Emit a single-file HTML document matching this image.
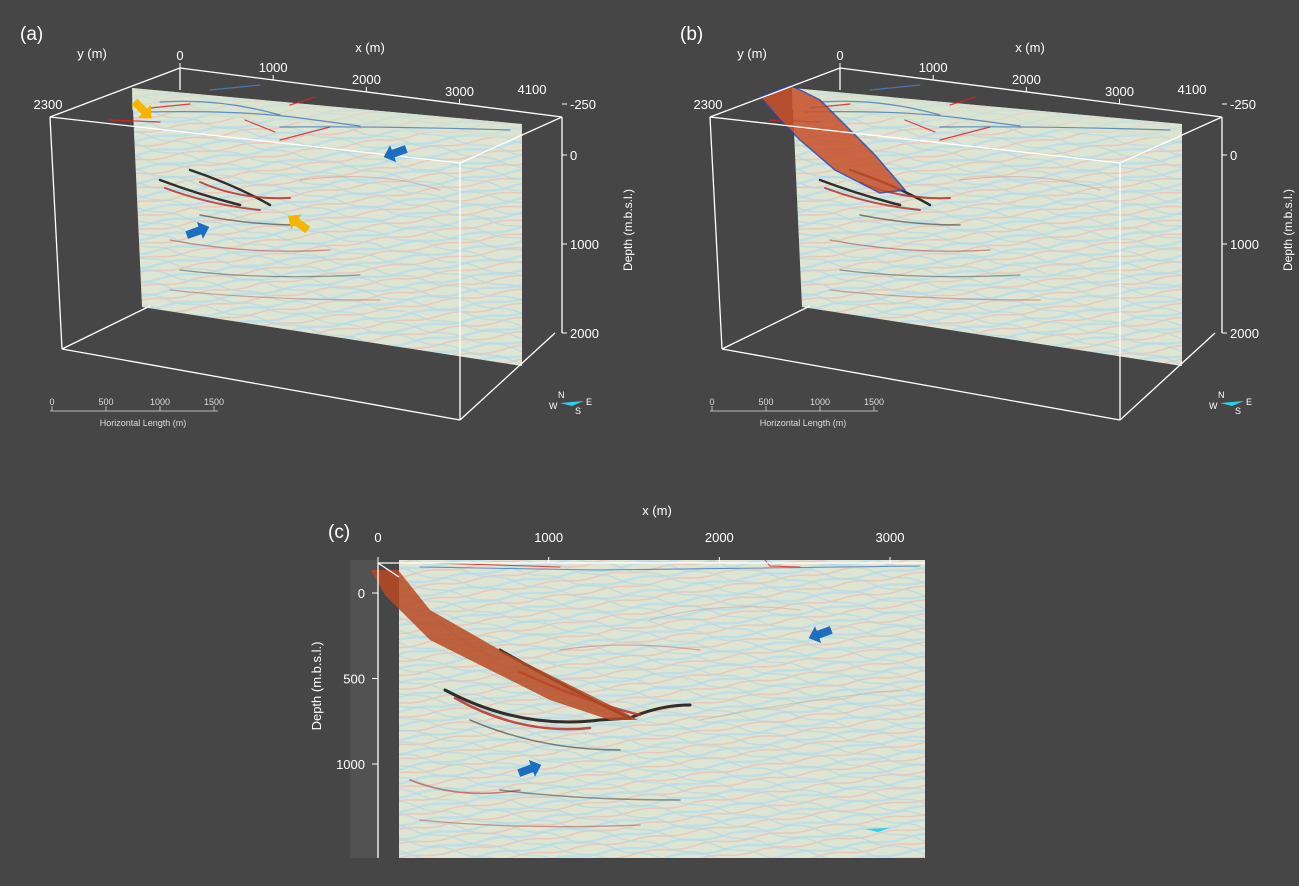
<!DOCTYPE html>
<html><head><meta charset="utf-8"><style>
html,body{margin:0;padding:0;background:#464646;}
svg{display:block;font-family:"Liberation Sans",sans-serif;}
</style></head><body>
<svg id="fig" width="1299" height="886" viewBox="0 0 1299 886">
<defs>
<pattern id="seis" width="60" height="14" patternUnits="userSpaceOnUse" patternTransform="rotate(-8)">
<rect width="60" height="14" fill="#dfe5d3"/>
<path d="M0 4 Q15 1 30 4 T60 4" stroke="#bfdfe6" stroke-width="2.5" fill="none"/>
<path d="M0 10 Q15 13 30 10 T60 10" stroke="#e6c9bd" stroke-width="1.6" fill="none"/>
</pattern>
<pattern id="seis2" width="50" height="12" patternUnits="userSpaceOnUse" patternTransform="rotate(12)">
<path d="M0 6 Q12 3 25 6 T50 6" stroke="#b7d8e2" stroke-width="1.5" fill="none" opacity="0.7"/>
</pattern>
</defs>
<g id="pa"></g>
<g id="pb" transform="translate(660,0)"></g>
<g id="pc"></g>
</svg>
<script>
const xTicks=[0,1000,2000,3000];
const depthTicks3d=[-250,0,1000,2000];
const scaleTicks=[0,500,1000,1500];
const cXTicks=[0,1000,2000,3000];
const cDepthTicks=[0,500,1000];
const NS="http://www.w3.org/2000/svg";
function mk(p,tag,attrs,txt){const e=document.createElementNS(NS,tag);for(const k in attrs)e.setAttribute(k,attrs[k]);if(txt!==undefined)e.textContent=txt;p.appendChild(e);return e;}
function streaks(g,list){list.forEach(s=>{const e=mk(g,'path',{d:s[0],stroke:s[1],'stroke-width':s[2],fill:'none','stroke-linecap':'round',opacity:s[3]||0.85});

});}
function panel3d(g,label,fault){
 const L=mk(g,'text',{x:20,y:40,fill:'#fff','font-size':19},label);
 
 const sp=mk(g,'polygon',{points:'132,88 522,124 522,366 142,307',fill:'url(#seis)'});
 
 mk(g,'polygon',{points:'132,88 522,124 522,366 142,307',fill:'url(#seis2)'});
 mk(g,'polygon',{points:'132,88 522,124 522,140 132,110',fill:'#d8e2cf',opacity:0.6});
 streaks(g,[["M160 180 Q200 195 240 205",'#111',2.5],["M190 170 Q235 185 270 205",'#111',2.5],["M165 188 Q210 205 260 210",'#b8312c',2],["M200 182 Q240 200 290 198",'#b8312c',2],["M200 215 Q250 225 300 225",'#333',1.5,0.6],["M170 240 Q250 255 330 250",'#a33',1.2,0.5],["M180 270 Q260 280 360 275",'#344',1.2,0.5],["M300 180 Q380 170 440 190",'#c77',1.2,0.4],["M170 290 Q260 300 380 300",'#a44',1.2,0.4]]);
 streaks(g,[["M145 112 Q240 110 300 118 L360 126",'#4a7fb6',1.2],["M160 102 Q220 98 280 115",'#4a7fb6',1.2],["M210 90 L260 85",'#4a7fb6',1.2],["M280 127 Q380 126 510 130",'#4a7fb6',1.2],["M110 120 L160 122",'#d22',1.2],["M150 108 L190 104",'#d22',1.2],["M280 140 L330 127",'#d22',1.2],["M290 105 L315 97",'#d22',1.2],["M245 120 L275 132",'#d22',1.2]]);
 if(fault){const f=mk(g,'polygon',{points:'100,97 130,85 160,100 215,155 245,190 220,193 175,170 140,140 120,120',fill:'#c8502a',opacity:0.85,stroke:'#2a44a8','stroke-width':1.5});
 }
 const bx=mk(g,'g',{stroke:'#fff','stroke-width':1.3,fill:'none'});
 
 ['180,68 562,117','50,117 460,163','50,117 62,349','62,349 460,420','460,163 460,420','562,117 562,333','180,68 50,117','562,117 460,163','555,333 460,420','62,349 150,306','180,68 180,90'].forEach(p=>{const a=p.split(' ');mk(bx,'line',{x1:a[0].split(',')[0],y1:a[0].split(',')[1],x2:a[1].split(',')[0],y2:a[1].split(',')[1]});});
 const ax=(v)=>180+v*(562-180)/4100, ay=(v)=>68+v*(117-68)/4100;
 xTicks.forEach(v=>{const t=mk(g,'text',{x:ax(v),y:ay(v)-8,fill:'#fff','font-size':13,'text-anchor':'middle'},v);
 
 mk(g,'line',{x1:ax(v),y1:ay(v),x2:ax(v),y2:ay(v)-5,stroke:'#fff'});});
 mk(g,'text',{x:532,y:94,fill:'#fff','font-size':13,'text-anchor':'middle'},'4100');
 mk(g,'text',{x:370,y:52,fill:'#fff','font-size':13,'text-anchor':'middle'},'x (m)');
 mk(g,'text',{x:92,y:58,fill:'#fff','font-size':13,'text-anchor':'middle'},'y (m)');
 mk(g,'text',{x:48,y:109,fill:'#fff','font-size':13,'text-anchor':'middle'},'2300');
 const dy=(v)=>155+v*(333-155)/2000;
 depthTicks3d.forEach(v=>{const y=v<0?104:dy(v);mk(g,'line',{x1:562,y1:y,x2:567,y2:y,stroke:'#fff'});
 const t=mk(g,'text',{x:570,y:y+5,fill:'#fff','font-size':13},v);
 });
 mk(g,'text',{x:0,y:0,fill:'#fff','font-size':12,'text-anchor':'middle',transform:'translate(632,230) rotate(-90)'},'Depth (m.b.s.l.)');
 const sx=(v)=>52+v*(162/1500);
 mk(g,'line',{x1:50,y1:411,x2:218,y2:411,stroke:'#bbb'});
 scaleTicks.forEach(v=>{mk(g,'line',{x1:sx(v),y1:406,x2:sx(v),y2:411,stroke:'#bbb'});
 const t=mk(g,'text',{x:sx(v),y:405,fill:'#ddd','font-size':9,'text-anchor':'middle'},v);
 });
 mk(g,'text',{x:143,y:426,fill:'#ddd','font-size':9,'text-anchor':'middle'},'Horizontal Length (m)');
 const c=mk(g,'g',{});
 mk(c,'text',{x:558,y:398,fill:'#fff','font-size':9},'N');mk(c,'text',{x:549,y:409,fill:'#fff','font-size':9},'W');
 mk(c,'text',{x:586,y:405,fill:'#fff','font-size':9},'E');mk(c,'text',{x:575,y:414,fill:'#fff','font-size':9},'S');
 mk(c,'path',{d:'M560 403 L584 401 L572 406 Z',fill:'#2ed0e8'});
}
function arrow(g,x,y,ang,col){const a=mk(g,'path',{d:'M-12 -4 L2 -4 L2 -9 L12 0 L2 9 L2 4 L-12 4 Z',fill:col,transform:`translate(${x},${y}) rotate(${ang})`});
}
const pa=document.getElementById('pa');panel3d(pa,'(a)',false);
arrow(pa,143,110,45,'#f5b400');arrow(pa,298,223,-145,'#f5b400');arrow(pa,198,231,-20,'#1c6fc0');arrow(pa,395,153,160,'#1c6fc0');
panel3d(document.getElementById('pb'),'(b)',true);
const pc=document.getElementById('pc');
mk(pc,'rect',{x:350,y:560,width:28,height:298,fill:'#525252'});
const cs=mk(pc,'rect',{x:399,y:560,width:526,height:298,fill:'url(#seis)'});

mk(pc,'rect',{x:399,y:560,width:526,height:298,fill:'url(#seis2)'});
streaks(pc,[["M445 690 Q520 730 600 720 L630 718",'#111',3],["M455 698 Q520 735 590 728",'#b8312c',2.5],["M500 650 Q570 690 630 718 Q660 705 690 705",'#111',3],["M520 672 Q580 700 640 715",'#b8312c',2.5],["M470 720 Q540 750 620 750",'#333',1.5,0.6],["M410 780 Q460 800 520 790",'#a33',1.5,0.6],["M500 790 Q580 800 680 800",'#333',1.5,0.5],["M560 650 Q620 640 700 650",'#c66',1.3,0.5],["M420 820 Q520 830 640 825",'#a44',1.3,0.5],["M650 620 Q720 600 800 610",'#c88',1.2,0.4],["M700 720 Q800 700 900 690",'#9bb',1.2,0.5],["M420 600 Q450 640 500 660",'#9ab',1.2,0.5]]);
streaks(pc,[["M420 567 L600 570 L920 566",'#4a7fb6',1],["M430 563 L560 567",'#d22',1],["M765 560 L770 566 L800 567",'#d22',1]]);
const fc=mk(pc,'polygon',{points:'371,570 398,570 430,610 500,650 560,680 620,710 638,720 610,720 550,700 490,670 430,640 400,610 385,595',fill:'#b94a22',opacity:0.85});

mk(pc,'text',{x:328,y:538,fill:'#fff','font-size':19},'(c)');
mk(pc,'line',{x1:378,y1:563,x2:925,y2:563,stroke:'#fff','stroke-width':1.3});
mk(pc,'line',{x1:378,y1:563,x2:378,y2:858,stroke:'#fff','stroke-width':1.3});
mk(pc,'line',{x1:378,y1:563,x2:399,y2:577,stroke:'#fff','stroke-width':1.3});
const cx=(v)=>378+v*(890-378)/3000;
cXTicks.forEach(v=>{mk(pc,'line',{x1:cx(v),y1:563,x2:cx(v),y2:557,stroke:'#fff'});
const t=mk(pc,'text',{x:cx(v),y:542,fill:'#fff','font-size':13,'text-anchor':'middle'},v);
});
mk(pc,'text',{x:657,y:515,fill:'#fff','font-size':13,'text-anchor':'middle'},'x (m)');
const cy=(v)=>593+v*(764-593)/1000;
cDepthTicks.forEach(v=>{mk(pc,'line',{x1:372,y1:cy(v),x2:378,y2:cy(v),stroke:'#fff'});
const t=mk(pc,'text',{x:365,y:cy(v)+5,fill:'#fff','font-size':13,'text-anchor':'end'},v);
});
mk(pc,'text',{x:0,y:0,fill:'#fff','font-size':13,'text-anchor':'middle',transform:'translate(321,686) rotate(-90)'},'Depth (m.b.s.l.)');
arrow(pc,530,769,-20,'#1c6fc0');arrow(pc,820,634,160,'#1c6fc0');
mk(pc,'path',{d:'M865 829 L890 828 L878 832 Z',fill:'#2ed0e8'});
</script>
</body></html>
